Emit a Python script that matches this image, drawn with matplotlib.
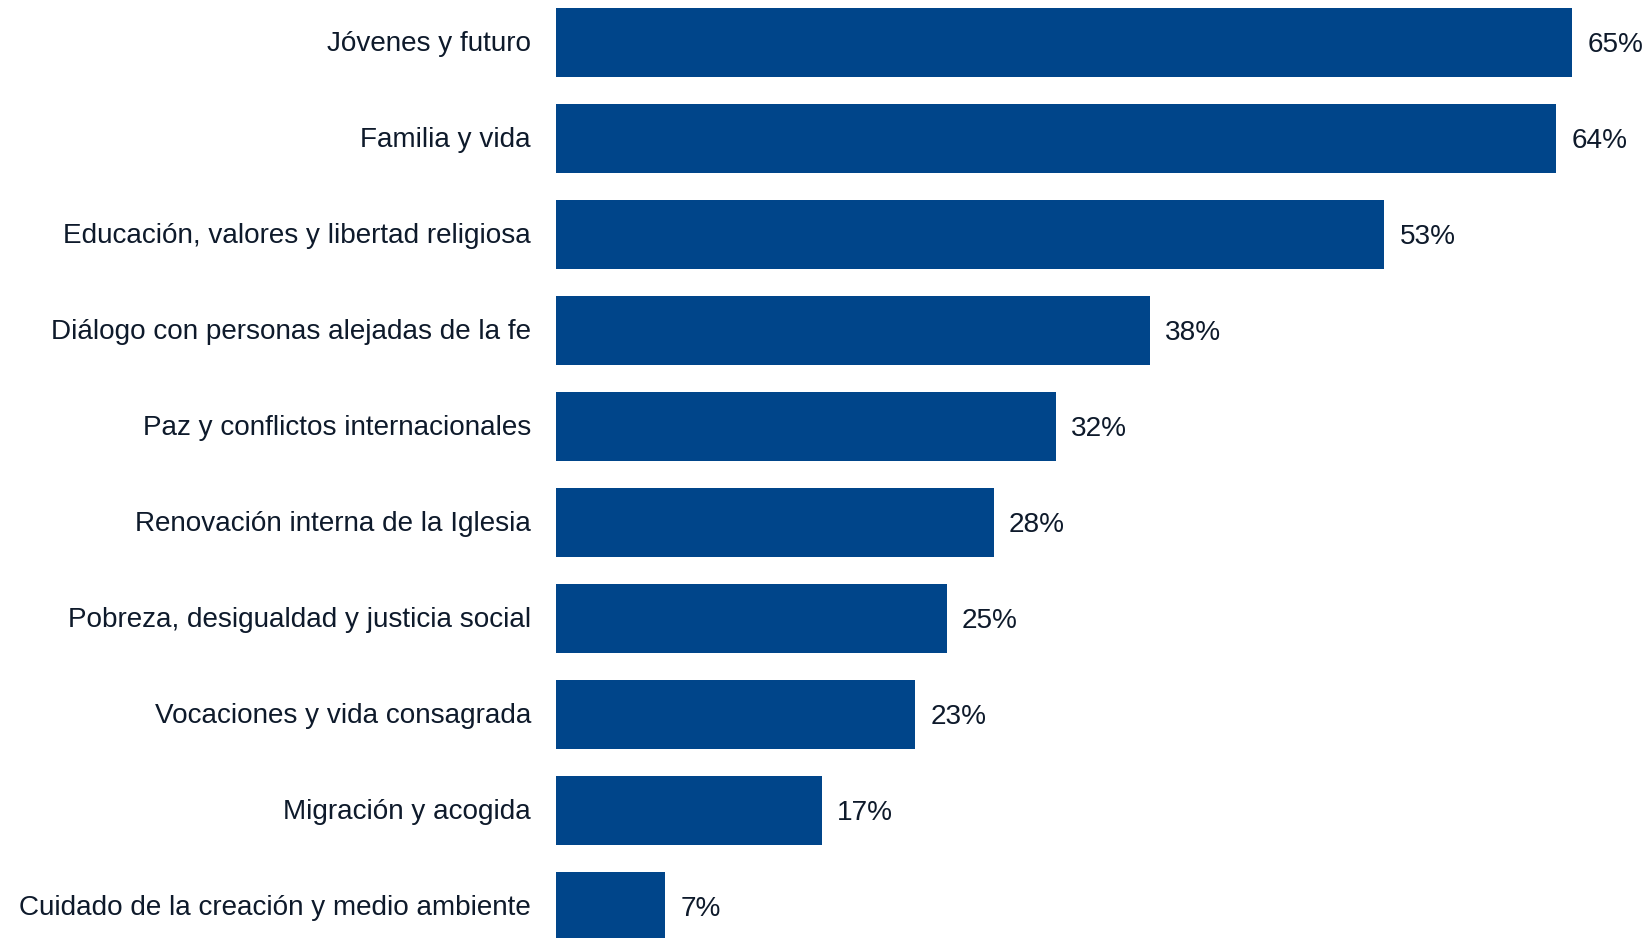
import matplotlib
matplotlib.use("Agg")
import matplotlib.pyplot as plt

# Datos
temas = [
    "Jóvenes y futuro",
    "Familia y vida",
    "Educación, valores y libertad religiosa",
    "Diálogo con personas alejadas de la fe",
    "Paz y conflictos internacionales",
    "Renovación interna de la Iglesia",
    "Pobreza, desigualdad y justicia social",
    "Vocaciones y vida consagrada",
    "Migración y acogida",
    "Cuidado de la creación y medio ambiente",
]
porcentajes = [65, 64, 53, 38, 32, 28, 25, 23, 17, 7]

plt.rcParams["font.family"] = ["Liberation Sans", "DejaVu Sans"]

color_barra = "#00458A"
color_texto = "#0E1A2B"

fig = plt.figure(figsize=(16.49, 9.38), dpi=100)
ax = fig.add_axes([556 / 1649, 0, 1094 / 1649, 1])

posiciones = list(range(len(temas)))
ax.barh(posiciones, porcentajes, height=0.72, color=color_barra)

# etiquetas de valor a la derecha de cada barra
for y, v in zip(posiciones, porcentajes):
    ax.annotate("%d%%" % v, xy=(v, y), xytext=(11, -1.5), textcoords="offset points",
                va="center", ha="left", fontsize=20.2, color=color_texto,
                annotation_clip=False)

# nombres de las categorías a la izquierda
for y, t in zip(posiciones, temas):
    ax.annotate(t, xy=(0, y), xytext=(-18, -1), textcoords="offset points",
                va="center", ha="right", fontsize=20.1, color=color_texto,
                annotation_clip=False)

ax.set_xlim(0, 70)
ax.set_ylim(9.328, -0.443)
ax.set_yticks([])
ax.set_xticks([])
for s in ax.spines.values():
    s.set_visible(False)

fig.savefig("out.png", dpi=100)
